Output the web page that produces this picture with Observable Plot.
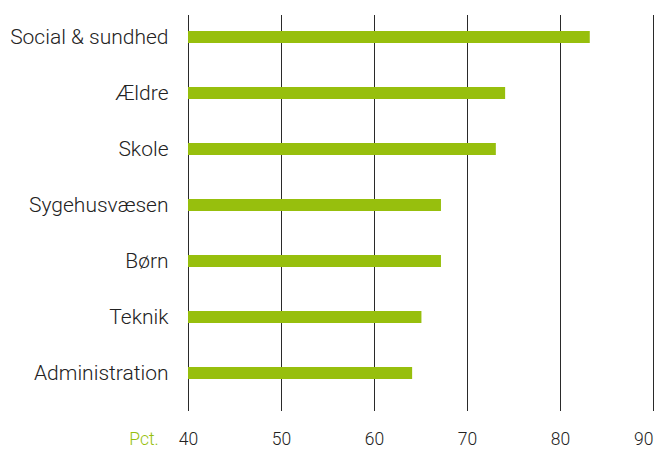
<!DOCTYPE html>
<html>
<head>
<meta charset="utf-8">
<script src="https://cdn.jsdelivr.net/npm/d3@7"></script>
<script src="https://cdn.jsdelivr.net/npm/@observablehq/plot@0.6"></script>
<style>
  html, body { margin: 0; padding: 0; background: #fff; }
  svg { display: block; }
</style>
</head>
<body>
<div id="chart"></div>
<script>
const categories = ["Social & sundhed", "Ældre", "Skole", "Sygehusvæsen", "Børn", "Teknik", "Administration"];
const values = [83.2, 74.1, 73.1, 67.2, 67.2, 65.1, 64.1];
const xTicks = [40, 50, 60, 70, 80, 90];
const unitLabel = ["Pct."];

const green = "#97bf0d";
const data = categories.map((c, i) => ({category: c, value: values[i]}));
const lastTick = xTicks[xTicks.length - 1];

const chart = Plot.plot({
  width: 657,
  height: 449,
  marginLeft: 188,
  marginRight: 4,
  marginTop: 15,
  marginBottom: 38,
  style: {fontFamily: "Roboto, Liberation Sans, Arial, sans-serif", fontWeight: 300, background: "#fff"},
  x: {domain: [40, 90], axis: null},
  y: {domain: categories, range: [9, 401], padding: 0, axis: null},
  marks: [
    Plot.ruleX(xTicks, {stroke: "#2a2a2a", strokeWidth: 1}),
    Plot.barX(data, {x1: 40, x2: "value", y: "category", fill: green, insetTop: 22, insetBottom: 22}),
    Plot.axisY({tickSize: 0, tickPadding: 20, fontSize: 21, color: "#222", label: null}),
    Plot.axisX(xTicks.filter(t => t !== lastTick), {anchor: "bottom", tickSize: 0, tickPadding: 21, fontSize: 17.5, color: "#222", label: null}),
    Plot.axisX([lastTick], {anchor: "bottom", tickSize: 0, tickPadding: 21, fontSize: 17.5, color: "#222", label: null, textAnchor: "end"}),
    Plot.text(unitLabel, {frameAnchor: "bottom-left", lineAnchor: "top", dx: -44.5, dy: 21, fill: green, fontSize: 17.5, textAnchor: "middle"})
  ]
});
document.getElementById("chart").appendChild(chart);
</script>
</body>
</html>
